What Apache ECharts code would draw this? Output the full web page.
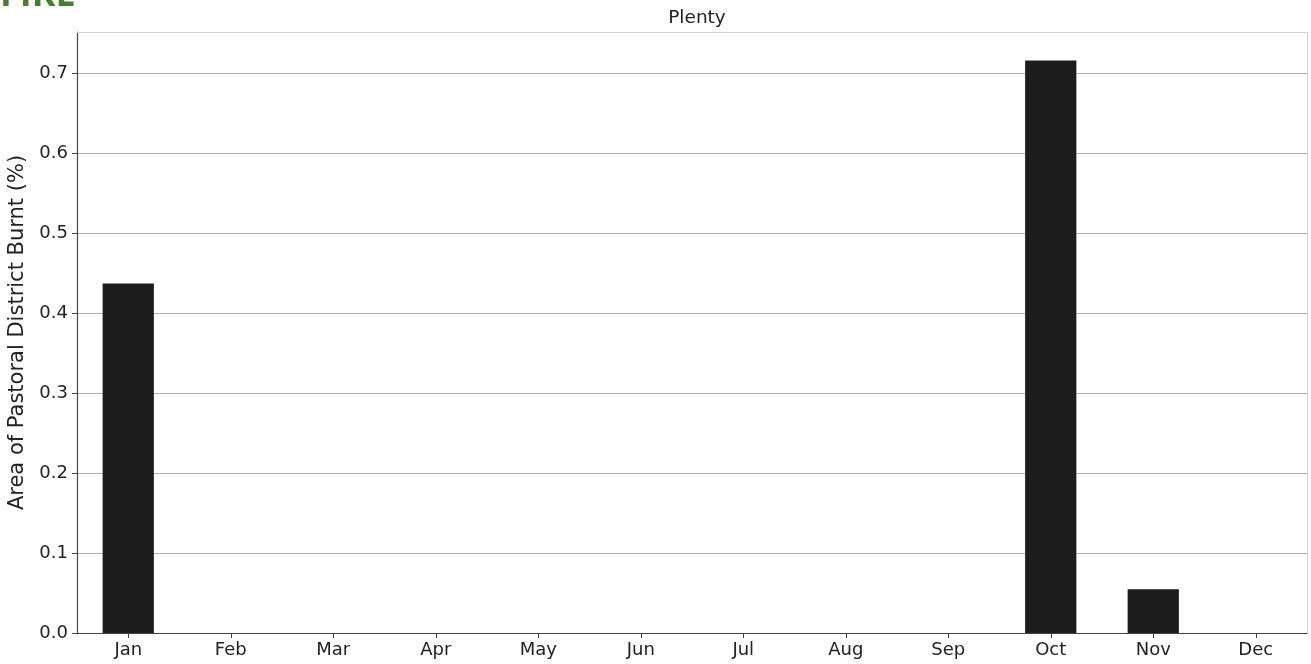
<!DOCTYPE html>
<html>
<head>
<meta charset="utf-8">
<script src="https://cdn.jsdelivr.net/npm/echarts@6/dist/echarts.min.js"></script>
<style>
  html, body { margin: 0; padding: 0; background: #fff; }
  #chart { width: 1311px; height: 664px; }
</style>
</head>
<body>
<div id="chart"></div>
<script>
// Monthly share of the Plenty pastoral district burnt
const months = ['Jan', 'Feb', 'Mar', 'Apr', 'May', 'Jun', 'Jul', 'Aug', 'Sep', 'Oct', 'Nov', 'Dec'];
const burntPct = [0.437, 0, 0, 0, 0, 0, 0, 0, 0, 0.7155, 0.0548, 0];
const yTicks = [0, 0.1, 0.2, 0.3, 0.4, 0.5, 0.6, 0.7];
const chartTitle = 'Plenty';
const sectionLabel = 'FIRE';
const yAxisName = 'Area of Pastoral District Burnt (%)';

const FONT = '"DejaVu Sans", sans-serif';
const yMax = Math.max(...burntPct) * 1.05;

const chart = echarts.init(document.getElementById('chart'), null, { renderer: 'canvas' });

chart.setOption({
  animation: false,
  backgroundColor: '#ffffff',
  title: {
    text: chartTitle,
    left: 692,
    textAlign: 'center',
    top: 4,
    textStyle: { fontFamily: FONT, fontSize: 18.5, fontWeight: 'normal', color: '#222' }
  },
  graphic: [
    {
      type: 'text',
      left: 0,
      top: -22,
      style: {
        text: sectionLabel,
        font: 'bold 36px "Open Sans", sans-serif',
        fill: '#4a7c34'
      }
    },
    {
      // light frame along the top and right edges of the plot
      type: 'polyline',
      shape: { points: [[77, 32.5], [1307.5, 32.5], [1307.5, 633]] },
      style: { stroke: '#d0d0d0', lineWidth: 1, fill: null },
      z: 1
    }
  ],
  grid: { left: 77, right: 4, top: 32, bottom: 31, containLabel: false, outerBoundsMode: 'none' },
  xAxis: {
    type: 'category',
    data: months,
    boundaryGap: true,
    axisLine: { show: true, lineStyle: { color: '#444', width: 1.2 } },
    axisTick: { show: true, alignWithLabel: true, length: 5, lineStyle: { color: '#444' } },
    axisLabel: { fontFamily: FONT, fontSize: 18, color: '#222', margin: 8 },
    splitLine: { show: false }
  },
  yAxis: {
    type: 'value',
    min: 0,
    max: yMax,
    interval: 0.1,
    name: yAxisName,
    nameLocation: 'middle',
    nameGap: 45,
    nameTextStyle: { fontFamily: FONT, fontSize: 21, color: '#222' },
    axisLine: { show: true, lineStyle: { color: '#444', width: 1.2 } },
    axisTick: { show: true, length: 5, lineStyle: { color: '#444' } },
    axisLabel: {
      fontFamily: FONT, fontSize: 18, color: '#222', margin: 9,
      showMaxLabel: false,
      formatter: v => {
        const hit = yTicks.find(t => Math.abs(t - v) < 1e-9);
        return hit === undefined ? '' : hit.toFixed(1);
      }
    },
    splitLine: { show: true, lineStyle: { color: '#b0b0b0', width: 1.2 } }
  },
  series: [{
    type: 'bar',
    data: burntPct,
    barWidth: '50%',
    itemStyle: { color: '#1c1c1c', borderWidth: 0 },
    z: 3
  }]
});
</script>
</body>
</html>
